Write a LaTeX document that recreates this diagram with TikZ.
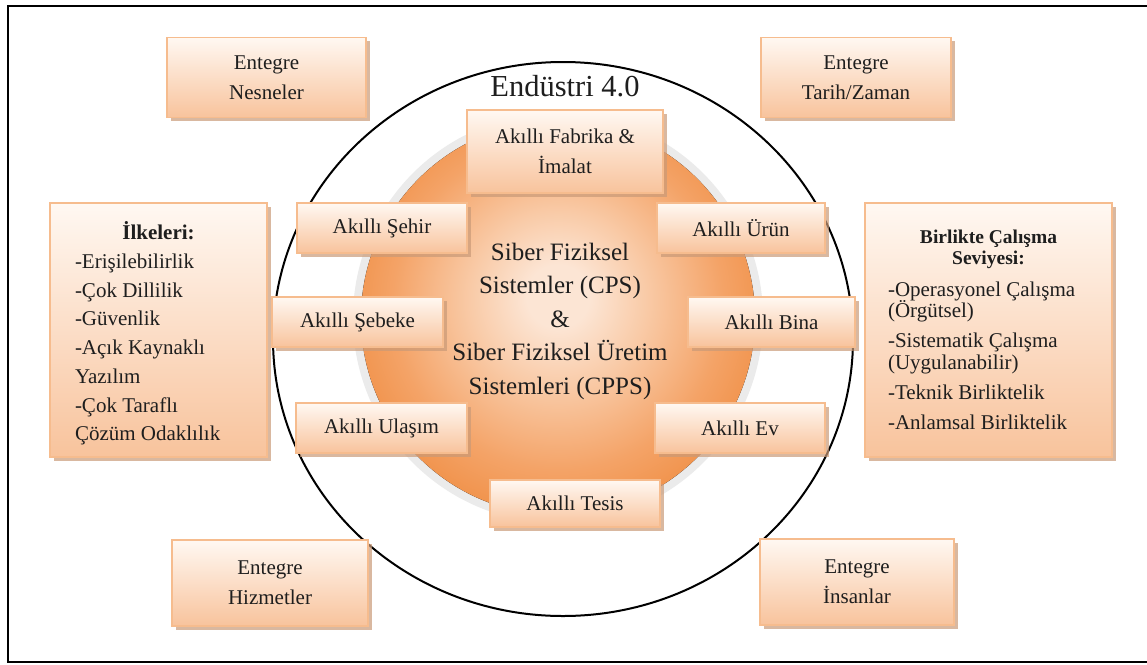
\documentclass[tikz,border=0pt]{standalone}
\usepackage{fontspec}
\setmainfont{Liberation Serif}
\usetikzlibrary{shadows}
\definecolor{boxtop}{HTML}{FFF8F2}
\definecolor{boxbot}{HTML}{F8C39C}
\definecolor{boxline}{HTML}{F6BC8E}
\definecolor{shadowc}{HTML}{C99A78}
\definecolor{discin}{HTML}{FCE5D4}
\definecolor{discmid}{HTML}{F9CBA8}
\definecolor{discmid2}{HTML}{F4A367}
\definecolor{discout}{HTML}{EF8A3D}
\definecolor{halo}{HTML}{EBEBEB}
\definecolor{txt}{HTML}{1E1E1E}
\pgfdeclareradialshading{discshade}{\pgfpoint{0bp}{3bp}}{color(0bp)=(discin); color(4bp)=(discin); color(11bp)=(discmid); color(21bp)=(discmid2); color(30bp)=(discout); color(50bp)=(discout)}
\tikzset{
  sbox/.style={draw=boxline, line width=1.2pt, top color=boxtop, bottom color=boxbot,
    drop shadow={shadow xshift=3.5pt, shadow yshift=-3.5pt, fill=shadowc, opacity=0.7},
    inner sep=0pt, align=center, text=txt, font=\fontsize{21}{30}\selectfont},
  plain/.style={inner sep=0pt, align=center, text=txt}
}
\begin{document}
\begin{tikzpicture}[x=1pt,y=-1pt]
\useasboundingbox (0,0) rectangle (1147,664);
\fill[white] (0,0) rectangle (1147,664);
\draw[line width=2.5pt] (8,6) rectangle (1160,662);
% halo and disc
\fill[halo] (558,318) circle (205pt);
\fill[shading=discshade] (558,318) circle (197pt);
% big ellipse
\draw[line width=2pt] (563,339) ellipse [x radius=290pt, y radius=277pt];
% title
\node[plain, font=\fontsize{30.5}{34}\selectfont] (title) at (565,86) {Endüstri 4.0};
% center text
\node[plain, font=\fontsize{25}{33.5}\selectfont] (ctext) at (560,321)
  {Siber Fiziksel\\Sistemler (CPS)\\\&\\Siber Fiziksel Üretim\\Sistemleri (CPPS)};
% corner boxes
\node[sbox, minimum width=199pt, minimum height=80pt] (nes) at (266.5,77.5) {Entegre\\Nesneler};
\node[sbox, minimum width=190pt, minimum height=80pt] (tar) at (856,77.5) {Entegre\\Tarih/Zaman};
\node[sbox, minimum width=196pt, minimum height=86pt] (hiz) at (270,583) {Entegre\\Hizmetler};
\node[sbox, minimum width=194pt, minimum height=86pt] (ins) at (857,582) {Entegre\\İnsanlar};
% inner boxes
\node[sbox, minimum width=196pt, minimum height=83pt] (fab) at (565,151.5) {Akıllı Fabrika \&\\İmalat};
\node[sbox, minimum width=170pt, minimum height=50pt] (seh) at (382,228) {Akıllı Şehir};
\node[sbox, minimum width=171pt, minimum height=50pt] (seb) at (357.5,322) {Akıllı Şebeke};
\node[sbox, minimum width=171pt, minimum height=50pt] (ula) at (381.5,428) {Akıllı Ulaşım};
\node[sbox, minimum width=168pt, minimum height=50pt] (uru) at (741,228) {Akıllı Ürün};
\node[sbox, minimum width=167pt, minimum height=50pt] (bin) at (771.5,322) {Akıllı Bina};
\node[sbox, minimum width=170pt, minimum height=50pt] (ev) at (740,428) {Akıllı Ev};
\node[sbox, minimum width=170pt, minimum height=47pt] (tes) at (575,503.5) {Akıllı Tesis};
% side boxes
\node[sbox, minimum width=217pt, minimum height=254pt] (ilk) at (158.5,330)
{\begin{minipage}{167pt}\fontsize{21}{28.7}\selectfont\vspace*{7pt}\centering\textbf{İlkeleri:}\par
\raggedright -Erişilebilirlik\par -Çok Dillilik\par -Güvenlik\par -Açık Kaynaklı\\Yazılım\par -Çok Taraflı\\Çözüm Odaklılık\par\end{minipage}};
\node[sbox, minimum width=247pt, minimum height=254pt] (bir) at (988.5,330)
{\begin{minipage}{201pt}\centering\fontsize{19.5}{20.5}\selectfont\textbf{Birlikte Çalışma\\Seviyesi:}\par\vspace{10pt}
\raggedright\fontsize{21}{21.7}\selectfont -Operasyonel Çalışma\\(Örgütsel)\par\vspace{8.3pt}
-Sistematik Çalışma\\(Uygulanabilir)\par\vspace{8.3pt}
-Teknik Birliktelik\par\vspace{8.3pt}
-Anlamsal Birliktelik\par\end{minipage}};
\end{tikzpicture}
\end{document}
